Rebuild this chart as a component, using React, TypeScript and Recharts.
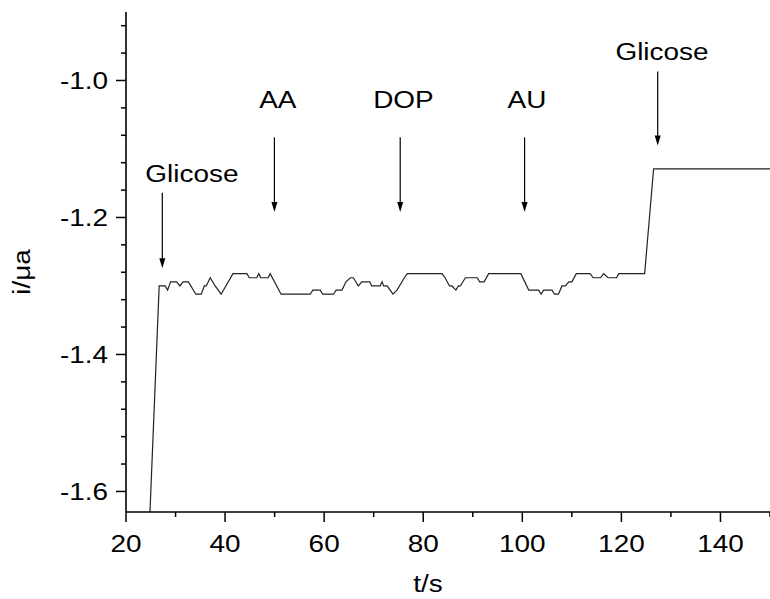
import React from "react";
import {
  LineChart,
  Line,
  XAxis,
  YAxis,
  ReferenceLine,
  ReferenceDot,
} from "recharts";

// time (s) and current (μA)
const times = [
  24.5, 26.7, 27.9, 28.4, 29.0, 30.2, 30.9, 31.5, 32.6, 34.1, 35.2, 35.8, 36.2,
  37.0, 38.0, 39.2, 41.6, 44.4, 44.9, 46.4, 46.8, 47.2, 48.7, 49.1, 51.3, 57.2,
  57.7, 59.2, 59.7, 61.9, 62.4, 63.6, 64.0, 64.4, 65.3, 65.9, 66.9, 67.6, 69.2,
  69.6, 71.3, 71.7, 72.0, 72.7, 73.9, 74.7, 76.2, 76.8, 83.8, 84.4, 85.3, 85.8,
  86.6, 87.1, 87.5, 88.5, 90.9, 91.4, 92.3, 93.2, 99.7, 101.3, 103.3, 103.8,
  104.3, 106.0, 106.5, 107.3, 108.0, 108.7, 109.4, 110.0, 110.9, 113.7, 114.3,
  115.8, 116.4, 117.3, 119.0, 119.5, 124.7, 126.5, 150,
];
const currents = [
  -1.69, -1.3, -1.3, -1.306, -1.294, -1.294, -1.3, -1.294, -1.294, -1.312,
  -1.312, -1.3, -1.3, -1.288, -1.3, -1.312, -1.282, -1.282, -1.288, -1.288,
  -1.282, -1.288, -1.288, -1.282, -1.312, -1.312, -1.306, -1.306, -1.312,
  -1.312, -1.306, -1.306, -1.3, -1.294, -1.288, -1.288, -1.3, -1.294, -1.294,
  -1.3, -1.3, -1.294, -1.3, -1.3, -1.312, -1.306, -1.288, -1.282, -1.282,
  -1.288, -1.3, -1.3, -1.306, -1.3, -1.3, -1.288, -1.288, -1.294, -1.294,
  -1.282, -1.282, -1.306, -1.306, -1.312, -1.306, -1.306, -1.312, -1.312,
  -1.3, -1.3, -1.294, -1.294, -1.282, -1.282, -1.288, -1.288, -1.282, -1.288,
  -1.288, -1.282, -1.282, -1.129, -1.129,
];

const xTicks = [20, 30, 40, 50, 60, 70, 80, 90, 100, 110, 120, 130, 140, 150];
const xMajor = [20, 40, 60, 80, 100, 120, 140];
const yTicks = [
  -1.6, -1.56, -1.52, -1.48, -1.44, -1.4, -1.36, -1.32, -1.28, -1.24, -1.2,
  -1.16, -1.12, -1.08, -1.04, -1.0, -0.96, -0.92,
];
const yMajor = [-1.6, -1.4, -1.2, -1.0];

// annotations: label, label position, arrow x, arrow top, arrow tip
const noteLabels = ["Glicose", "AA", "DOP", "AU", "Glicose"];
const noteTextX = [33.3, 50.65, 76.0, 100.95, 128.2];
const noteTextY = [-1.148, -1.04, -1.04, -1.04, -0.97];
const arrowX = [27.33, 49.96, 75.35, 100.46, 127.33];
const arrowTop = [-1.164, -1.083, -1.083, -1.083, -0.987];
const arrowTip = [-1.274, -1.192, -1.192, -1.192, -1.095];

const data = times.map((t, i) => ({ t, v: currents[i] }));

const FONT = "'Liberation Sans', Arial, sans-serif";

// the reference text is a bit wider than plain Arial, so stretch it
const Txt = ({ x, y, anchor = "middle", rotate = 0, children }: any) => (
  <text
    transform={`translate(${x},${y}) rotate(${rotate}) scale(1.14,1)`}
    textAnchor={anchor}
    fontSize={24.5}
    fontFamily={FONT}
    fill="#000"
  >
    {children}
  </text>
);

const XTick = (props: any) => {
  const { x, y, payload } = props;
  const major = xMajor.includes(payload.value);
  return (
    <g>
      <line x1={x} x2={x} y1={y} y2={y + (major ? 10 : 5)} stroke="#000" strokeWidth={1.5} />
      {major && <Txt x={x} y={y + 40}>{payload.value}</Txt>}
    </g>
  );
};

const TopTick = (props: any) => {
  const { x, y } = props;
  return <line x1={x} x2={x} y1={y} y2={y + 3} stroke="#000" strokeWidth={1.2} />;
};

const YTick = (props: any) => {
  const { x, y, payload } = props;
  const major = yMajor.some((m) => Math.abs(m - payload.value) < 1e-6);
  return (
    <g>
      <line x1={x - (major ? 10 : 5)} x2={x} y1={y} y2={y} stroke="#000" strokeWidth={1.5} />
      {major && (
        <Txt x={x - 18} y={y + 8.6} anchor="end">
          {payload.value.toFixed(1)}
        </Txt>
      )}
    </g>
  );
};

const NoteText = (label: string) => (props: any) => (
  <Txt x={props.cx} y={props.cy}>{label}</Txt>
);

const ArrowHead = (props: any) => {
  const { cx, cy } = props;
  return <path d={`M${cx - 3},${cy - 10} L${cx + 3},${cy - 10} L${cx},${cy} Z`} fill="#000" />;
};

export default function App() {
  return (
    <div style={{ position: "absolute", left: 0, top: 0, width: 770, height: 599, background: "#fff", overflow: "hidden" }}>
      <LineChart width={770} height={599} data={data} margin={{ top: 12, right: 0, left: 0, bottom: 0 }}>
        <XAxis
          xAxisId="top"
          orientation="top"
          dataKey="t"
          type="number"
          domain={[20, 150]}
          ticks={xTicks}
          interval={0}
          height={0}
          tickSize={0}
          tickMargin={0}
          tick={<TopTick />}
          tickLine={false}
          axisLine={{ stroke: "#000", strokeWidth: 1.6 }}
        />
        <XAxis
          xAxisId="main"
          dataKey="t"
          type="number"
          domain={[20, 150]}
          allowDataOverflow
          ticks={xTicks}
          interval={0}
          height={87}
          tickSize={0}
          tickMargin={0}
          tick={<XTick />}
          tickLine={false}
          axisLine={{ stroke: "#000", strokeWidth: 1.6 }}
          label={{ content: () => <Txt x={428} y={592}>t/s</Txt> }}
        />
        <YAxis
          type="number"
          domain={[-1.63, -0.9]}
          allowDataOverflow
          ticks={yTicks}
          interval={0}
          width={126}
          tickSize={0}
          tickMargin={0}
          tick={<YTick />}
          tickLine={false}
          axisLine={{ stroke: "#000", strokeWidth: 1.6 }}
          label={{ content: () => <Txt x={30} y={272} rotate={-90}>i/μa</Txt> }}
        />
        <Line
          xAxisId="main"
          dataKey="v"
          type="linear"
          stroke="#222"
          strokeWidth={1.2}
          dot={false}
          isAnimationActive={false}
        />
        {arrowX.map((ax, i) => (
          <ReferenceLine
            key={`shaft-${i}`}
            xAxisId="main"
            segment={[
              { x: ax, y: arrowTop[i] },
              { x: ax, y: arrowTip[i] + 0.012 },
            ]}
            stroke="#000"
            strokeWidth={1.2}
          />
        ))}
        {arrowX.map((ax, i) => (
          <ReferenceDot key={`head-${i}`} xAxisId="main" x={ax} y={arrowTip[i]} r={0} shape={<ArrowHead />} />
        ))}
        {noteLabels.map((lab, i) => (
          <ReferenceDot key={`note-${i}`} xAxisId="main" x={noteTextX[i]} y={noteTextY[i]} r={0} shape={NoteText(lab)} />
        ))}
      </LineChart>
    </div>
  );
}
